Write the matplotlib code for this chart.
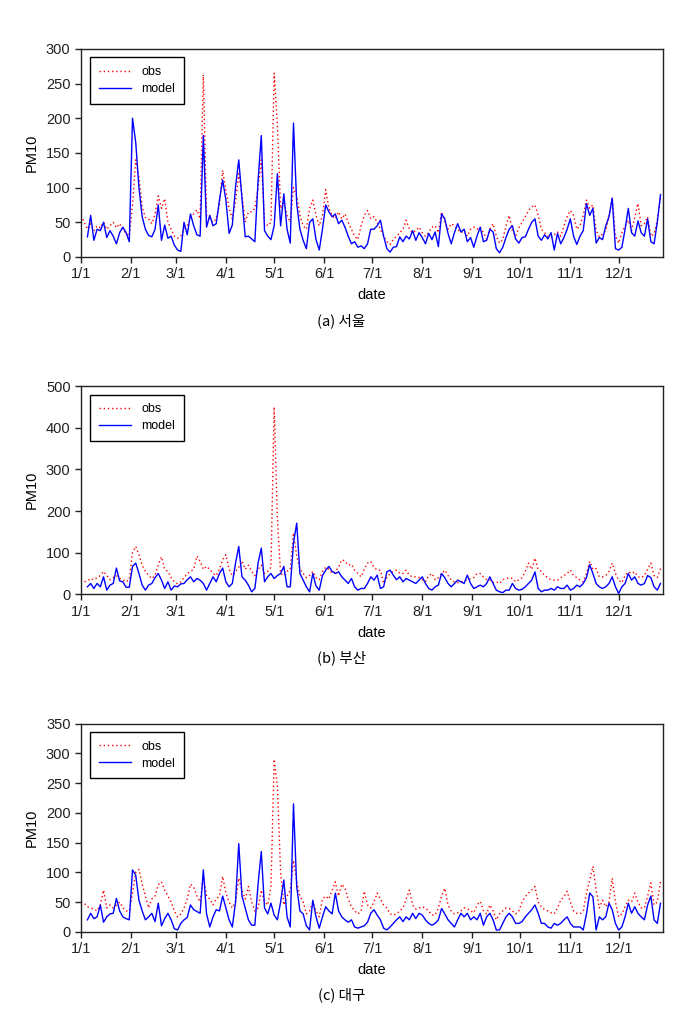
import numpy as np
import matplotlib
matplotlib.use("Agg")
import matplotlib.pyplot as plt

plt.rcParams['font.family'] = ['Liberation Sans', 'DejaVu Sans']

nan = np.nan
# every second day of the year, day 0 = 1/1
days = np.arange(0, 362, 2)

month_starts = [0, 31, 59, 90, 120, 151, 181, 212, 243, 273, 304, 334]
month_labels = ['1/1', '2/1', '3/1', '4/1', '5/1', '6/1',
                '7/1', '8/1', '9/1', '10/1', '11/1', '12/1']

# (a) Seoul
seoul_model = [
    nan, nan, 29, 60, 24, 40, 38, 50, 28, 38,
    30, 19, 35, 43, 35, 22, 200, 165, 100, 58,
    40, 31, 29, 40, 75, 24, 46, 27, 30, 17,
    10, 8, 50, 32, 62, 45, 32, 30, 175, 43,
    60, 45, 48, 82, 111, 82, 34, 46, 101, 140,
    85, 29, 30, 26, 22, 110, 175, 38, 30, 25,
    45, 120, 45, 91, 40, 20, 193, 77, 40, 24,
    12, 50, 55, 25, 10, 40, 75, 65, 58, 62,
    48, 53, 43, 30, 19, 22, 14, 16, 12, 19,
    40, 40, 45, 53, 30, 12, 7, 14, 15, 29,
    22, 30, 26, 38, 24, 35, 28, 19, 34, 25,
    36, 15, 62, 55, 34, 19, 35, 48, 36, 40,
    22, 28, 14, 30, 43, 22, 24, 40, 36, 12,
    6, 14, 28, 40, 45, 26, 20, 28, 29, 40,
    50, 55, 30, 24, 32, 26, 35, 10, 34, 19,
    28, 40, 55, 30, 18, 30, 38, 77, 60, 70,
    20, 28, 25, 45, 58, 85, 12, 10, 14, 40,
    70, 35, 30, 52, 35, 30, 55, 22, 19, 50,
    90]
seoul_obs = [
    60, 50, 40, 48, 38, 45, 42, 50, 40, 45,
    50, 42, 48, 38, 35, 30, 75, 140, 115, 72,
    57, 55, 48, 62, 88, 70, 84, 50, 40, 30,
    27, 30, 40, 45, 55, 62, 68, 55, 263, 60,
    55, 50, 55, 75, 125, 95, 70, 55, 80, 120,
    90, 50, 65, 65, 70, 100, 140, 50, 45, 50,
    265, 190, 70, 80, 60, 50, 100, 88, 60, 45,
    40, 70, 82, 60, 45, 60, 97, 70, 60, 55,
    65, 55, 62, 50, 40, 30, 25, 45, 60, 67,
    55, 58, 50, 40, 30, 22, 18, 25, 30, 35,
    40, 53, 40, 35, 38, 43, 35, 30, 35, 43,
    45, 35, 65, 50, 40, 48, 45, 40, 35, 38,
    30, 40, 43, 40, 43, 35, 25, 40, 48, 30,
    20, 25, 45, 60, 38, 30, 42, 50, 58, 67,
    72, 75, 60, 40, 35, 30, 28, 32, 36, 30,
    45, 58, 67, 60, 40, 45, 60, 82, 70, 75,
    38, 29, 33, 38, 58, 85, 30, 20, 35, 45,
    53, 38, 57, 77, 45, 48, 58, 30, 33, 53,
    85]

# (b) Busan
busan_model = [
    nan, nan, 18, 26, 14, 26, 18, 42, 10, 22,
    26, 63, 32, 30, 17, 17, 67, 75, 50, 22,
    10, 22, 26, 40, 50, 34, 14, 30, 10, 20,
    18, 25, 26, 35, 42, 30, 38, 34, 26, 10,
    26, 42, 30, 50, 63, 30, 18, 26, 75, 115,
    42, 34, 22, 6, 14, 75, 111, 30, 42, 50,
    38, 45, 50, 67, 18, 18, 123, 171, 50, 34,
    18, 6, 50, 20, 10, 45, 58, 67, 55, 50,
    54, 42, 34, 26, 38, 18, 10, 14, 14, 26,
    42, 34, 46, 14, 18, 54, 58, 46, 35, 42,
    30, 38, 34, 30, 26, 34, 42, 26, 14, 10,
    18, 22, 50, 40, 26, 18, 26, 34, 30, 26,
    46, 26, 14, 18, 22, 18, 26, 42, 26, 10,
    6, 4, 10, 10, 26, 14, 10, 12, 18, 26,
    34, 54, 14, 6, 10, 10, 14, 10, 18, 14,
    14, 22, 10, 14, 22, 18, 26, 40, 71, 50,
    26, 18, 14, 18, 26, 42, 18, 2, 18, 26,
    50, 34, 42, 26, 22, 26, 45, 40, 18, 10,
    26]
busan_obs = [
    35, 30, 32, 38, 35, 40, 45, 55, 45, 35,
    40, 45, 38, 35, 30, 35, 100, 115, 95, 70,
    55, 45, 38, 45, 71, 90, 60, 55, 40, 30,
    25, 30, 40, 50, 55, 60, 92, 79, 60, 67,
    60, 50, 45, 60, 83, 95, 60, 45, 55, 65,
    80, 60, 70, 55, 45, 60, 70, 50, 55, 65,
    450, 180, 50, 45, 55, 60, 148, 93, 60, 50,
    40, 45, 55, 40, 35, 55, 65, 60, 50, 55,
    65, 83, 80, 70, 72, 58, 50, 42, 60, 75,
    79, 65, 58, 58, 26, 40, 50, 55, 58, 50,
    50, 58, 45, 42, 42, 40, 35, 30, 45, 50,
    35, 40, 50, 58, 45, 35, 30, 28, 30, 32,
    35, 38, 40, 50, 50, 42, 35, 34, 28, 30,
    26, 35, 38, 40, 38, 30, 35, 40, 55, 75,
    60, 87, 60, 55, 45, 40, 35, 34, 34, 40,
    45, 50, 58, 45, 40, 34, 30, 50, 79, 60,
    62, 42, 42, 45, 55, 75, 50, 34, 28, 45,
    54, 50, 54, 42, 40, 45, 60, 75, 45, 40,
    62]

# (c) Daegu
daegu_model = [
    nan, nan, 20, 31, 22, 25, 45, 16, 25, 30,
    31, 56, 35, 25, 22, 20, 104, 95, 53, 35,
    20, 25, 31, 17, 48, 10, 22, 31, 20, 5,
    3, 14, 20, 24, 45, 37, 34, 31, 104, 30,
    8, 25, 37, 35, 60, 40, 20, 8, 50, 148,
    60, 40, 20, 11, 11, 80, 135, 40, 30, 48,
    28, 20, 50, 87, 25, 8, 215, 76, 35, 30,
    10, 3, 53, 25, 6, 25, 42, 35, 30, 65,
    35, 25, 20, 16, 20, 8, 6, 8, 10, 16,
    31, 37, 28, 20, 6, 3, 8, 14, 20, 25,
    17, 25, 20, 31, 22, 31, 28, 20, 14, 11,
    14, 20, 39, 30, 20, 14, 8, 20, 31, 25,
    31, 20, 25, 20, 31, 11, 25, 31, 20, 3,
    3, 14, 25, 31, 25, 14, 14, 17, 25, 31,
    37, 45, 31, 14, 14, 8, 6, 14, 11, 14,
    20, 25, 14, 8, 8, 8, 3, 30, 65, 59,
    3, 25, 20, 25, 48, 37, 14, 3, 8, 25,
    48, 31, 42, 31, 25, 20, 45, 60, 20, 14,
    48]
daegu_obs = [
    50, 48, 42, 40, 38, 35, 45, 70, 40, 45,
    40, 45, 50, 40, 35, 35, 65, 100, 105, 80,
    60, 40, 55, 60, 79, 84, 70, 60, 50, 35,
    25, 30, 40, 55, 80, 75, 60, 50, 95, 60,
    55, 45, 55, 60, 93, 65, 50, 40, 50, 90,
    70, 55, 76, 50, 35, 40, 70, 50, 45, 75,
    290, 245, 100, 45, 60, 70, 120, 85, 60, 50,
    30, 35, 50, 35, 25, 55, 60, 55, 70, 84,
    60, 80, 73, 55, 42, 35, 30, 35, 68, 45,
    40, 50, 65, 55, 45, 40, 30, 28, 30, 35,
    40, 55, 70, 45, 38, 40, 42, 40, 35, 28,
    28, 40, 60, 73, 45, 35, 30, 32, 35, 40,
    39, 35, 32, 45, 51, 35, 30, 45, 35, 20,
    30, 35, 40, 39, 35, 30, 35, 50, 59, 65,
    70, 76, 50, 42, 37, 35, 32, 30, 40, 53,
    59, 68, 50, 35, 31, 30, 35, 65, 87, 110,
    70, 40, 53, 42, 50, 90, 50, 25, 30, 42,
    53, 50, 65, 50, 40, 40, 60, 82, 45, 50,
    84]

panels = [
    (seoul_obs, seoul_model, 300, 50, '(a) 서울', 0.7493),
    (busan_obs, busan_model, 500, 100, '(b) 부산', 0.4202),
    (daegu_obs, daegu_model, 350, 50, '(c) 대구', 0.0910),
]

fig = plt.figure(figsize=(6.83, 10.25), dpi=100)

for obs, model, ymax, ystep, caption, bottom in panels:
    ax = fig.add_axes([0.1186, bottom, 0.852, 0.203])
    ax.plot(days, obs, color='#ff0000', lw=1.0, ls=(0, (1, 2)), label='obs')
    ax.plot(days, model, color='#0000ff', lw=1.0, label='model')
    ax.set_xlim(0, 361.5)
    ax.set_ylim(0, ymax)
    ax.set_yticks(np.arange(0, ymax + 1, ystep))
    ax.set_xticks(month_starts)
    ax.set_xticklabels(month_labels)
    ax.tick_params(direction='out', length=4, width=1, labelsize=10.5,
                   colors='#222222')
    for s in ax.spines.values():
        s.set_linewidth(1.0)
        s.set_color('#222222')
    ax.set_xlabel('date', fontsize=10.5, labelpad=5)
    ax.set_ylabel('PM10', fontsize=10.5, labelpad=5)
    leg = ax.legend(loc='upper left', fontsize=9, fancybox=False,
                    framealpha=1, edgecolor='black', handlelength=2.6,
                    borderpad=0.7, labelspacing=0.4,
                    bbox_to_anchor=(0.005, 0.99))
    leg.get_frame().set_linewidth(1.0)
    fig.text(0.5, bottom - 0.062, caption, ha='center', va='center',
             fontsize=10.5, family=['Noto Sans CJK KR', 'DejaVu Sans'])

fig.savefig('out.png', dpi=100)
